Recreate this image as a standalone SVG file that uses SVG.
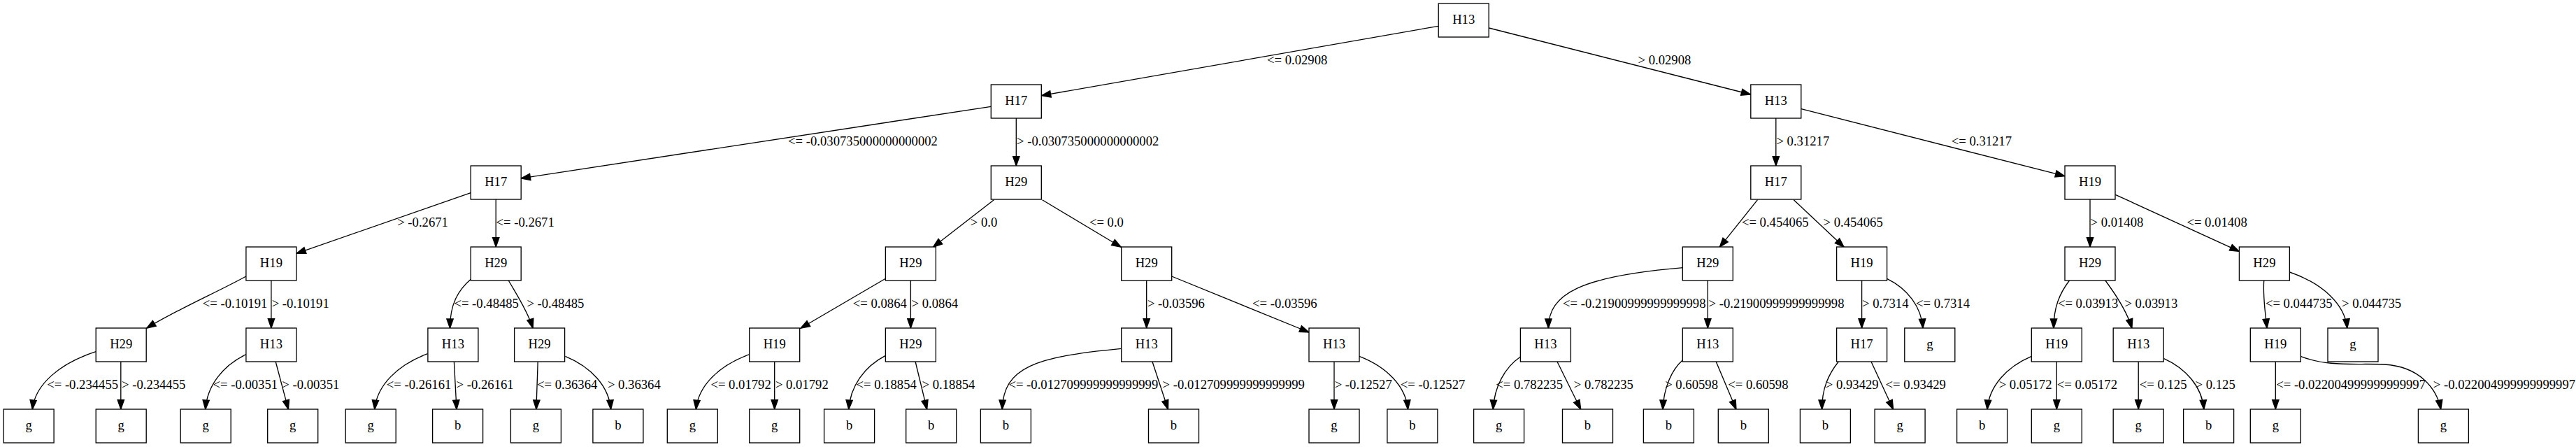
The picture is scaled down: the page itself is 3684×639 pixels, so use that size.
<svg xmlns="http://www.w3.org/2000/svg" width="3684" height="639" viewBox="0 0 3684 639">
<style>
.n rect{fill:#fff;stroke:#000;stroke-width:1.33}
.n text{font-family:"Liberation Serif","Times New Roman",serif;font-size:18.67px;text-anchor:middle;fill:#000}
.e path{fill:none;stroke:#000;stroke-width:1.33;marker-end:url(#arr)}
.lb text{font-family:"Liberation Serif","Times New Roman",serif;font-size:18.67px;fill:#000}
</style>
<defs>
<marker id="arr" markerUnits="userSpaceOnUse" markerWidth="15" markerHeight="11" refX="13.3" refY="4.67" orient="auto" overflow="visible">
<path d="M0,0 L13.3,4.67 L0,9.33 z" fill="#000" stroke="#000" stroke-width="1.33"/>
</marker>
</defs>
<rect width="3684" height="639" fill="#fff"/>
<g id="edges" class="e">
<path d="M2057,37.3 L1489.4,136.7"/>
<path d="M2129.4,40 L2503.6,135"/>
<path d="M1417.1,152.3 L745.1,255"/>
<path d="M1453.3,169 L1453.3,237"/>
<path d="M673.2,275.7 L423.9,362.3"/>
<path d="M709.2,285 L709.2,353"/>
<path d="M351.9,395 C310,418 250,444 209.6,469.3"/>
<path d="M387.9,401 L387.9,469"/>
<path d="M137.2,502.7 C85.4,519.2 49.9,549.8 46.3,585.3"/>
<path d="M172.8,517 L172.8,585"/>
<path d="M351.9,506.7 C318.8,522.4 296.1,551.5 293.8,585.3"/>
<path d="M394.2,517 L412.4,585.3"/>
<path d="M673.2,399.3 C655,415 643.5,435 643.5,469.3"/>
<path d="M727.3,401 C737,418 755,445 762.1,469.3"/>
<path d="M611.5,505.7 C568.5,521.6 538.8,551.1 535.8,585.3"/>
<path d="M649.4,517 L653,585.3"/>
<path d="M769.2,517 L766.9,585.3"/>
<path d="M808.4,509.3 C845.6,524.5 871,552.6 873.6,585.3"/>
<path d="M1421.4,285.7 L1334.4,353.3"/>
<path d="M1490.6,285.7 L1603.3,353.3"/>
<path d="M1266.4,398.3 L1144.9,469.3"/>
<path d="M1302.4,401 L1302.4,469"/>
<path d="M1071.7,506.7 C1028.2,522.4 998.5,551.5 995.4,585.3"/>
<path d="M1107.7,517 L1107.7,585"/>
<path d="M1266.4,508.3 C1236.4,523.7 1215.9,552.2 1213.8,585.3"/>
<path d="M1309.1,517 L1325.7,585.3"/>
<path d="M1639.7,401 L1639.7,469"/>
<path d="M1675.7,395 L1872,475"/>
<path d="M1603.7,498.3 C1480,510 1435,525 1433.3,585.3"/>
<path d="M1648,517 L1670.5,585.3"/>
<path d="M1908,517 L1908,585"/>
<path d="M1943.9,509.3 C1983.6,524.5 2010.7,552.6 2013.5,585.3"/>
<path d="M2539.8,169 L2539.8,237"/>
<path d="M2576,155.7 L2952.8,251.7"/>
<path d="M2513.5,285.7 L2459.3,353.3"/>
<path d="M2565.3,285.7 L2637.2,353.3"/>
<path d="M2407,382.7 C2260,395 2214.4,420 2214.4,469.3"/>
<path d="M2442.3,401 L2442.3,469"/>
<path d="M2174.5,510 C2152.2,525.1 2136.9,552.9 2135.3,585.3"/>
<path d="M2227,517 L2260.7,585.3"/>
<path d="M2407,514.3 C2390.5,528.5 2379.2,554.8 2378,585.3"/>
<path d="M2454.2,517 L2483,585.3"/>
<path d="M2662.6,401 L2662.6,469"/>
<path d="M2698.5,398.3 C2727.9,412.5 2747.9,438.8 2750,469.3"/>
<path d="M2629.3,517 C2615,535 2605.6,555 2605.6,585.3"/>
<path d="M2676,517 L2707.6,585.3"/>
<path d="M2989,285 L2989,353"/>
<path d="M3025.3,278.3 L3202.4,359.3"/>
<path d="M2959.5,401 C2945,420 2937,440 2937,469.3"/>
<path d="M3010.9,401 C3025,420 3042,445 3048.9,469.3"/>
<path d="M2905.3,509.3 C2869.2,524.5 2844.5,552.6 2842,585.3"/>
<path d="M2941.3,517 L2941.3,585"/>
<path d="M3058.2,517 L3058.2,585"/>
<path d="M3094.2,512.3 C3127,526.9 3149.5,553.9 3151.8,585.3"/>
<path d="M3237.7,401 C3236,425 3240,450 3242.1,469.3"/>
<path d="M3274.4,389 C3321.4,405.1 3353.5,434.8 3356.8,469.3"/>
<path d="M3254.3,517 L3254.3,585"/>
<path d="M3290.1,509.3 C3330,525 3370,519 3410,521 C3460,524 3485,555 3490.7,585.3"/>
</g>
<g id="labels" class="lb">
<text x="1812" y="91.7">&lt;= 0.02908</text>
<text x="2342.5" y="91.7">&gt; 0.02908</text>
<text x="1127.1" y="207.7">&lt;= -0.030735000000000002</text>
<text x="1454" y="207.7">&gt; -0.030735000000000002</text>
<text x="568.2" y="323.7">&gt; -0.2671</text>
<text x="709.5" y="323.7">&lt;= -0.2671</text>
<text x="289.8" y="439.7">&lt;= -0.10191</text>
<text x="388.7" y="439.7">&gt; -0.10191</text>
<text x="67.2" y="555.7">&lt;= -0.234455</text>
<text x="174" y="555.7">&gt; -0.234455</text>
<text x="304.5" y="555.7">&lt;= -0.00351</text>
<text x="403.3" y="555.7">&gt; -0.00351</text>
<text x="649.4" y="439.7">&lt;= -0.48485</text>
<text x="753.4" y="439.7">&gt; -0.48485</text>
<text x="552.8" y="555.7">&lt;= -0.26161</text>
<text x="652.6" y="555.7">&gt; -0.26161</text>
<text x="768" y="555.7">&lt;= 0.36364</text>
<text x="868.9" y="555.7">&gt; 0.36364</text>
<text x="1387.8" y="323.7">&gt; 0.0</text>
<text x="1557.9" y="323.7">&lt;= 0.0</text>
<text x="1219.8" y="439.7">&lt;= 0.0864</text>
<text x="1303.6" y="439.7">&gt; 0.0864</text>
<text x="1016.4" y="555.7">&lt;= 0.01792</text>
<text x="1108.9" y="555.7">&gt; 0.01792</text>
<text x="1224.5" y="555.7">&lt;= 0.18854</text>
<text x="1318.6" y="555.7">&gt; 0.18854</text>
<text x="1640.9" y="439.7">&gt; -0.03596</text>
<text x="1791.1" y="439.7">&lt;= -0.03596</text>
<text x="1442.4" y="555.7">&lt;= -0.012709999999999999</text>
<text x="1662.6" y="555.7">&gt; -0.012709999999999999</text>
<text x="1908.7" y="555.7">&gt; -0.12527</text>
<text x="2002.8" y="555.7">&lt;= -0.12527</text>
<text x="2540.4" y="207.7">&gt; 0.31217</text>
<text x="2790.7" y="207.7">&lt;= 0.31217</text>
<text x="2490.9" y="323.7">&lt;= 0.454065</text>
<text x="2607.6" y="323.7">&gt; 0.454065</text>
<text x="2235" y="439.7">&lt;= -0.21900999999999998</text>
<text x="2443.5" y="439.7">&gt; -0.21900999999999998</text>
<text x="2139.3" y="555.7">&lt;= 0.782235</text>
<text x="2250.8" y="555.7">&gt; 0.782235</text>
<text x="2381.2" y="555.7">&gt; 0.60598</text>
<text x="2471.2" y="555.7">&lt;= 0.60598</text>
<text x="2663" y="439.7">&gt; 0.7314</text>
<text x="2740" y="439.7">&lt;= 0.7314</text>
<text x="2610.8" y="555.7">&gt; 0.93429</text>
<text x="2696.6" y="555.7">&lt;= 0.93429</text>
<text x="2989.5" y="323.7">&gt; 0.01408</text>
<text x="3127.4" y="323.7">&lt;= 0.01408</text>
<text x="2942.9" y="439.7">&lt;= 0.03913</text>
<text x="3038.4" y="439.7">&gt; 0.03913</text>
<text x="2858.7" y="555.7">&gt; 0.05172</text>
<text x="2941.7" y="555.7">&lt;= 0.05172</text>
<text x="3059.8" y="555.7">&lt;= 0.125</text>
<text x="3139.6" y="555.7">&gt; 0.125</text>
<text x="3239.9" y="439.7">&lt;= 0.044735</text>
<text x="3349" y="439.7">&gt; 0.044735</text>
<text x="3255.2" y="555.7">&lt;= -0.022004999999999997</text>
<text x="3479.8" y="555.7">&gt; -0.022004999999999997</text>
</g>
<g id="n0" class="n"><rect x="2057.2" y="5" width="72" height="48"/><text x="2093.2" y="34">H13</text></g>
<g id="n1" class="n"><rect x="1417.3" y="121" width="72" height="48"/><text x="1453.3" y="150">H17</text></g>
<g id="n2" class="n"><rect x="2503.8" y="121" width="72" height="48"/><text x="2539.8" y="150">H13</text></g>
<g id="n3" class="n"><rect x="673.2" y="237" width="72" height="48"/><text x="709.2" y="266">H17</text></g>
<g id="n4" class="n"><rect x="1417.3" y="237" width="72" height="48"/><text x="1453.3" y="266">H29</text></g>
<g id="n5" class="n"><rect x="2503.8" y="237" width="72" height="48"/><text x="2539.8" y="266">H17</text></g>
<g id="n6" class="n"><rect x="2953" y="237" width="72" height="48"/><text x="2989" y="266">H19</text></g>
<g id="n7" class="n"><rect x="351.9" y="353" width="72" height="48"/><text x="387.9" y="382">H19</text></g>
<g id="n8" class="n"><rect x="673.2" y="353" width="72" height="48"/><text x="709.2" y="382">H29</text></g>
<g id="n9" class="n"><rect x="1266.4" y="353" width="72" height="48"/><text x="1302.4" y="382">H29</text></g>
<g id="n10" class="n"><rect x="1603.7" y="353" width="72" height="48"/><text x="1639.7" y="382">H29</text></g>
<g id="n11" class="n"><rect x="2406.3" y="353" width="72" height="48"/><text x="2442.3" y="382">H29</text></g>
<g id="n12" class="n"><rect x="2626.6" y="353" width="72" height="48"/><text x="2662.6" y="382">H19</text></g>
<g id="n13" class="n"><rect x="2953" y="353" width="72" height="48"/><text x="2989" y="382">H29</text></g>
<g id="n14" class="n"><rect x="3202.4" y="353" width="72" height="48"/><text x="3238.4" y="382">H29</text></g>
<g id="n15" class="n"><rect x="137.2" y="469" width="72" height="48"/><text x="173.2" y="498">H29</text></g>
<g id="n16" class="n"><rect x="351.9" y="469" width="72" height="48"/><text x="387.9" y="498">H13</text></g>
<g id="n17" class="n"><rect x="611.9" y="469" width="72" height="48"/><text x="647.9" y="498">H13</text></g>
<g id="n18" class="n"><rect x="735.6" y="469" width="72" height="48"/><text x="771.6" y="498">H29</text></g>
<g id="n19" class="n"><rect x="1071.7" y="469" width="72" height="48"/><text x="1107.7" y="498">H19</text></g>
<g id="n20" class="n"><rect x="1266.4" y="469" width="72" height="48"/><text x="1302.4" y="498">H29</text></g>
<g id="n21" class="n"><rect x="1603.7" y="469" width="72" height="48"/><text x="1639.7" y="498">H13</text></g>
<g id="n22" class="n"><rect x="1872" y="469" width="72" height="48"/><text x="1908" y="498">H13</text></g>
<g id="n23" class="n"><rect x="2174.4" y="469" width="72" height="48"/><text x="2210.4" y="498">H13</text></g>
<g id="n24" class="n"><rect x="2406.3" y="469" width="72" height="48"/><text x="2442.3" y="498">H13</text></g>
<g id="n25" class="n"><rect x="2626.6" y="469" width="72" height="48"/><text x="2662.6" y="498">H17</text></g>
<g id="n26" class="n"><rect x="2723.8" y="469" width="72" height="48"/><text x="2759.8" y="498">g</text></g>
<g id="n27" class="n"><rect x="2905.3" y="469" width="72" height="48"/><text x="2941.3" y="498">H19</text></g>
<g id="n28" class="n"><rect x="3022.2" y="469" width="72" height="48"/><text x="3058.2" y="498">H13</text></g>
<g id="n29" class="n"><rect x="3218.3" y="469" width="72" height="48"/><text x="3254.3" y="498">H19</text></g>
<g id="n30" class="n"><rect x="3329" y="469" width="72" height="48"/><text x="3365" y="498">g</text></g>
<g id="n31" class="n"><rect x="5.1" y="585" width="72" height="48"/><text x="41.1" y="614">g</text></g>
<g id="n32" class="n"><rect x="137.2" y="585" width="72" height="48"/><text x="173.2" y="614">g</text></g>
<g id="n33" class="n"><rect x="258.2" y="585" width="72" height="48"/><text x="294.2" y="614">g</text></g>
<g id="n34" class="n"><rect x="382.7" y="585" width="72" height="48"/><text x="418.7" y="614">g</text></g>
<g id="n35" class="n"><rect x="494.2" y="585" width="72" height="48"/><text x="530.2" y="614">g</text></g>
<g id="n36" class="n"><rect x="618.6" y="585" width="72" height="48"/><text x="654.6" y="614">b</text></g>
<g id="n37" class="n"><rect x="730.4" y="585" width="72" height="48"/><text x="766.4" y="614">g</text></g>
<g id="n38" class="n"><rect x="847.9" y="585" width="72" height="48"/><text x="883.9" y="614">b</text></g>
<g id="n39" class="n"><rect x="954.3" y="585" width="72" height="48"/><text x="990.3" y="614">g</text></g>
<g id="n40" class="n"><rect x="1071.7" y="585" width="72" height="48"/><text x="1107.7" y="614">g</text></g>
<g id="n41" class="n"><rect x="1178.6" y="585" width="72" height="48"/><text x="1214.6" y="614">b</text></g>
<g id="n42" class="n"><rect x="1295.7" y="585" width="72" height="48"/><text x="1331.7" y="614">b</text></g>
<g id="n43" class="n"><rect x="1402.4" y="585" width="72" height="48"/><text x="1438.4" y="614">b</text></g>
<g id="n44" class="n"><rect x="1642.5" y="585" width="72" height="48"/><text x="1678.5" y="614">b</text></g>
<g id="n45" class="n"><rect x="1872" y="585" width="72" height="48"/><text x="1908" y="614">g</text></g>
<g id="n46" class="n"><rect x="1983.9" y="585" width="72" height="48"/><text x="2019.9" y="614">b</text></g>
<g id="n47" class="n"><rect x="2107.6" y="585" width="72" height="48"/><text x="2143.6" y="614">g</text></g>
<g id="n48" class="n"><rect x="2234.5" y="585" width="72" height="48"/><text x="2270.5" y="614">b</text></g>
<g id="n49" class="n"><rect x="2350.4" y="585" width="72" height="48"/><text x="2386.4" y="614">b</text></g>
<g id="n50" class="n"><rect x="2457.3" y="585" width="72" height="48"/><text x="2493.3" y="614">b</text></g>
<g id="n51" class="n"><rect x="2574.4" y="585" width="72" height="48"/><text x="2610.4" y="614">b</text></g>
<g id="n52" class="n"><rect x="2681.1" y="585" width="72" height="48"/><text x="2717.1" y="614">g</text></g>
<g id="n53" class="n"><rect x="2798.6" y="585" width="72" height="48"/><text x="2834.6" y="614">b</text></g>
<g id="n54" class="n"><rect x="2905.3" y="585" width="72" height="48"/><text x="2941.3" y="614">g</text></g>
<g id="n55" class="n"><rect x="3022.2" y="585" width="72" height="48"/><text x="3058.2" y="614">g</text></g>
<g id="n56" class="n"><rect x="3122.6" y="585" width="72" height="48"/><text x="3158.6" y="614">b</text></g>
<g id="n57" class="n"><rect x="3218.3" y="585" width="72" height="48"/><text x="3254.3" y="614">g</text></g>
<g id="n58" class="n"><rect x="3458.4" y="585" width="72" height="48"/><text x="3494.4" y="614">g</text></g>
</svg>
